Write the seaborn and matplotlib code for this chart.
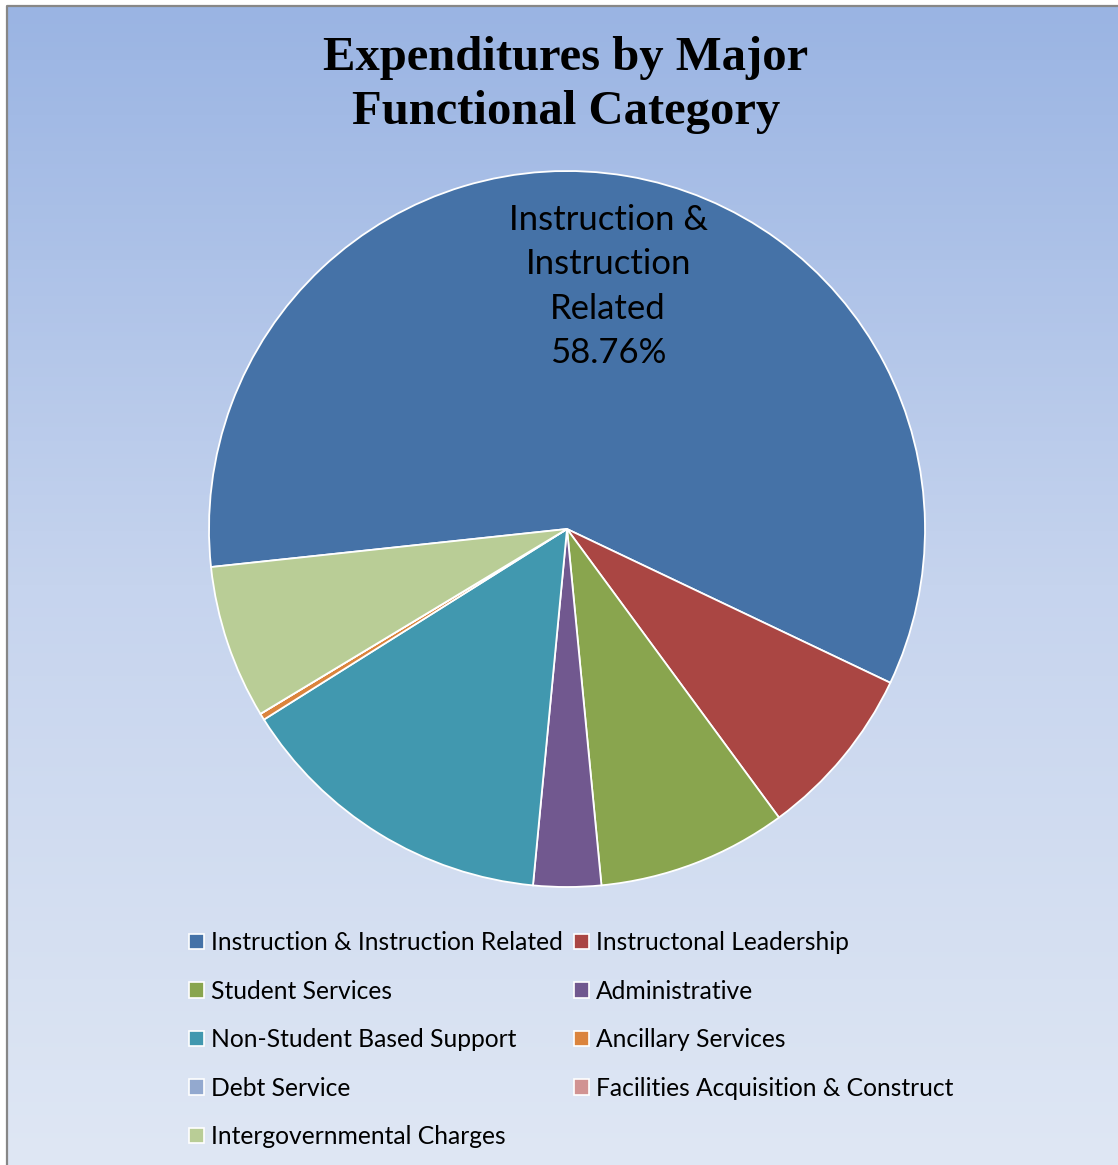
import numpy as np
import matplotlib
matplotlib.use("Agg")
import matplotlib.pyplot as plt
from matplotlib.patches import Patch
from matplotlib.colors import LinearSegmentedColormap
import seaborn as sns

sns.set_theme(style="white")
plt.rcParams["font.family"] = ["Lato", "DejaVu Sans"]
plt.rcParams["text.color"] = "black"

# Expenditure shares (%) by functional category
categories = [
    "Instruction & Instruction Related",
    "Instructonal Leadership",
    "Student Services",
    "Administrative",
    "Non-Student Based Support",
    "Ancillary Services",
    "Debt Service",
    "Facilities Acquisition & Construct",
    "Intergovernmental Charges",
]
shares = [58.76, 7.85, 8.55, 3.05, 14.55, 0.30, 0.0, 0.0, 6.94]
colors = ["#4572A7", "#AA4643", "#89A54E", "#71588F", "#4198AF",
          "#DB843D", "#93A9CF", "#D19392", "#B9CD96"]

W, H, DPI = 1118, 1165, 100
fig = plt.figure(figsize=(W / DPI, H / DPI), dpi=DPI)
fig.patch.set_facecolor("white")

# Background panel with a vertical blue gradient and a grey frame
bg = fig.add_axes([0, 0, 1, 1])
bg.set_xlim(0, W)
bg.set_ylim(H, 0)
bg.axis("off")
grad = np.linspace(0, 1, 256).reshape(-1, 1)
cmap = LinearSegmentedColormap.from_list("panel", ["#9AB4E3", "#C6D4EE", "#DFE7F4"])
bg.imshow(grad, cmap=cmap, aspect="auto", extent=[7, W, H, 6], zorder=0)
bg.plot([7, 7, W], [H, 6, 6], color="#878787", lw=1.6, zorder=1,
        solid_capstyle="butt")

# Pie axes: center (567, 529) px, radius 358 px
cx, cy, r = 567, 529, 358
half = 400
ax = fig.add_axes([(cx - half) / W, (H - cy - half) / H, 2 * half / W, 2 * half / H])
ax.pie(shares, colors=colors, startangle=186.1, counterclock=False,
       radius=1.0, wedgeprops=dict(edgecolor="white", linewidth=1.3))
ax.set_xlim(-half / r, half / r)
ax.set_ylim(-half / r, half / r)
ax.set_aspect("equal")
ax.axis("off")
ax.patch.set_alpha(0)

ax.text(0.115, 0.677, f"Instruction &\nInstruction\nRelated\n{shares[0]:.2f}%",
        ha="center", va="center", fontsize=25, color="black", linespacing=1.48)

fig.text(566 / W, 1 - 85 / H, "Expenditures by Major\nFunctional Category",
         ha="center", va="center", fontsize=35, fontweight="bold",
         family="Liberation Serif", color="black", linespacing=1.3)

# Legend laid out row-wise in two columns
handles = [Patch(facecolor=c, edgecolor="white", linewidth=1.2) for c in colors]
left_idx = [0, 2, 4, 6, 8]
right_idx = [1, 3, 5, 7]
common = dict(frameon=False, fontsize=17.7, handlelength=0.6, handleheight=0.6,
              handletextpad=0.3, labelspacing=1.04, borderpad=0, borderaxespad=0,
              loc="upper left", labelcolor="black")
leg1 = fig.legend([handles[i] for i in left_idx], [categories[i] for i in left_idx],
                  bbox_to_anchor=(189 / W, 1 - 931 / H), **common)
fig.legend([handles[i] for i in right_idx], [categories[i] for i in right_idx],
           bbox_to_anchor=(574 / W, 1 - 931 / H), **common)

fig.savefig("out.png", dpi=DPI)
